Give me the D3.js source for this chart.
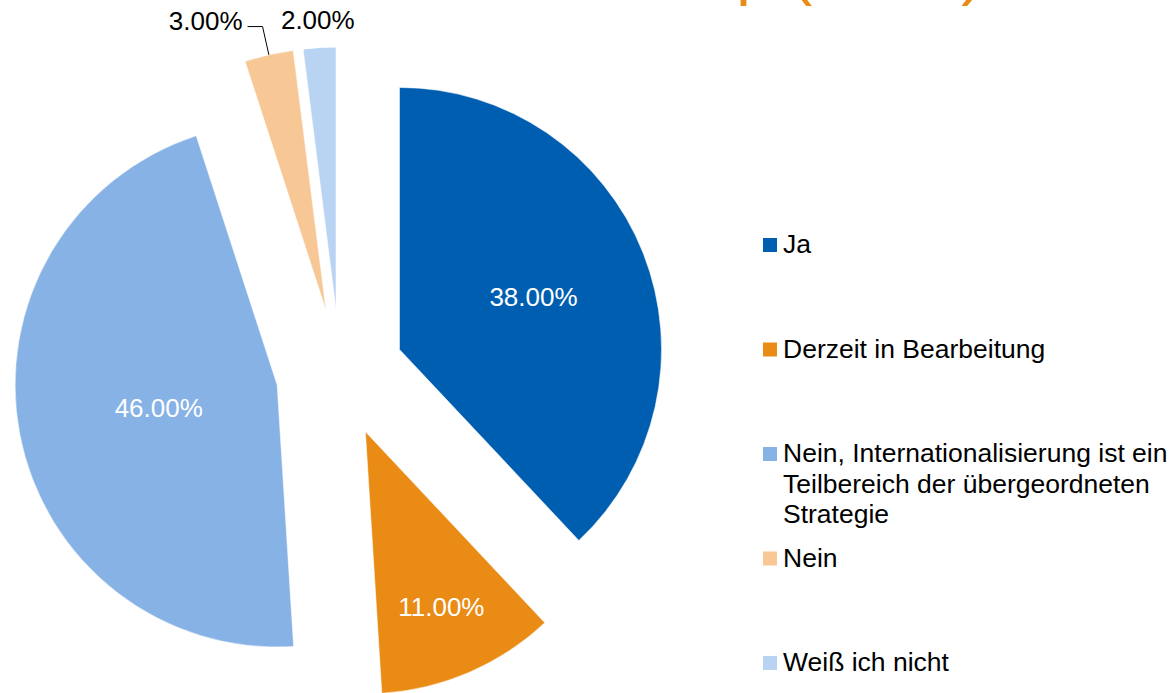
<!DOCTYPE html>
<meta charset="utf-8">
<script src="https://d3js.org/d3.v7.min.js"></script>
<style>
body { margin: 0; background: #fff; }
text { font-family: "Liberation Sans", Arial, sans-serif; }
</style>
<svg width="1174" height="693"></svg>
<script>

// data
var categories = ["Ja", "Derzeit in Bearbeitung", "Nein, Internationalisierung ist ein Teilbereich der übergeordneten Strategie", "Nein", "Weiß ich nicht"];
var shares = [38, 11, 46, 3, 2];
var colors = ["#005eb0", "#e98b15", "#86b2e5", "#f7c896", "#b8d4f2"];
var titleText = "Resultate Workshop (HAW)";

var svg = d3.select("svg"),
    width = +svg.attr("width"),
    height = +svg.attr("height");

var cx = 340, cy = 373, radius = 262, explode = 64;

var color = d3.scaleOrdinal().domain(categories).range(colors);

// title, mostly cut off above the picture
svg.append("text")
    .attr("x", 983)
    .attr("y", -7)
    .attr("text-anchor", "end")
    .style("font-size", "65px")
    .style("fill", "#e98b15")
    .text(titleText);

var pie = d3.pie()
    .sort(null)
    .value(function(d, i) { return shares[i]; });

var arc = d3.arc()
    .innerRadius(0)
    .outerRadius(radius);

var arcs = pie(categories);

function mid(d) { return (d.startAngle + d.endAngle) / 2; }
function dir(a) { return [Math.sin(a), -Math.cos(a)]; }

// where each label sits, as a fraction of the radius (inside) or just outside
var labelPos = {
  "Ja": {inside: true, k: 0.55},
  "Derzeit in Bearbeitung": {inside: true, k: 0.73},
  "Nein, Internationalisierung ist ein Teilbereich der übergeordneten Strategie": {inside: true, k: 0.46},
  "Nein": {inside: false, leader: true},
  "Weiß ich nicht": {inside: false, leader: false}
};

var g = svg.append("g").attr("transform", "translate(" + cx + "," + cy + ")");

var slice = g.selectAll(".slice")
    .data(arcs)
    .enter().append("g")
      .attr("class", "slice")
      .attr("transform", function(d) {
        var v = dir(mid(d));
        return "translate(" + (v[0] * explode) + "," + (v[1] * explode) + ")";
      });

slice.append("path")
    .attr("d", arc)
    .attr("fill", function(d) { return color(d.data); })
    .attr("stroke", "#fff")
    .attr("stroke-width", 0.5);

var fmt = function(v) { return v.toFixed(2) + "%"; };

slice.each(function(d, i) {
  var el = d3.select(this),
      pos = labelPos[d.data],
      v = dir(mid(d));
  if (pos.inside) {
    el.append("text")
      .attr("x", v[0] * radius * pos.k)
      .attr("y", v[1] * radius * pos.k)
      .attr("dy", "0.35em")
      .attr("text-anchor", "middle")
      .style("font-size", "26px")
      .style("fill", "#fff")
      .text(fmt(shares[i]));
  } else if (pos.leader) {
    var p0 = [v[0] * radius, v[1] * radius],
        p1 = [v[0] * (radius + 29), v[1] * (radius + 29)],
        p2 = [p1[0] - 15, p1[1]];
    el.append("path")
      .attr("d", d3.line()([p0, p1, p2]))
      .attr("fill", "none")
      .attr("stroke", "#000")
      .attr("stroke-width", 1);
    el.append("text")
      .attr("x", p2[0] - 5)
      .attr("y", p2[1] + 3)
      .attr("text-anchor", "end")
      .style("font-size", "26px")
      .style("fill", "#000")
      .text(fmt(shares[i]));
  } else {
    el.append("text")
      .attr("x", v[0] * (radius + 28))
      .attr("y", v[1] * (radius + 28))
      .attr("dy", "0.35em")
      .attr("text-anchor", "middle")
      .style("font-size", "26px")
      .style("fill", "#000")
      .text(fmt(shares[i]));
  }
});

// legend
var legend = svg.append("g").attr("transform", "translate(763,253)");

var item = legend.selectAll(".item")
    .data(categories)
    .enter().append("g")
      .attr("class", "item")
      .attr("transform", function(d, i) { return "translate(0," + (i * 104.5) + ")"; });

item.append("rect")
    .attr("x", 0)
    .attr("y", -15)
    .attr("width", 14)
    .attr("height", 14)
    .attr("fill", function(d) { return color(d); });

item.append("text")
    .attr("x", 20)
    .attr("y", 0)
    .style("font-size", "26.5px")
    .style("fill", "#000")
    .each(function(d) {
      var t = d3.select(this),
          words = d.split(" "),
          line = [],
          tspan = t.append("tspan").attr("x", 20).attr("dy", 0);
      words.forEach(function(w) {
        line.push(w);
        tspan.text(line.join(" "));
        if (tspan.node().getComputedTextLength() > 392 && line.length > 1) {
          line.pop();
          tspan.text(line.join(" "));
          line = [w];
          tspan = t.append("tspan").attr("x", 20).attr("dy", 30.5).text(w);
        }
      });
    });

</script>
